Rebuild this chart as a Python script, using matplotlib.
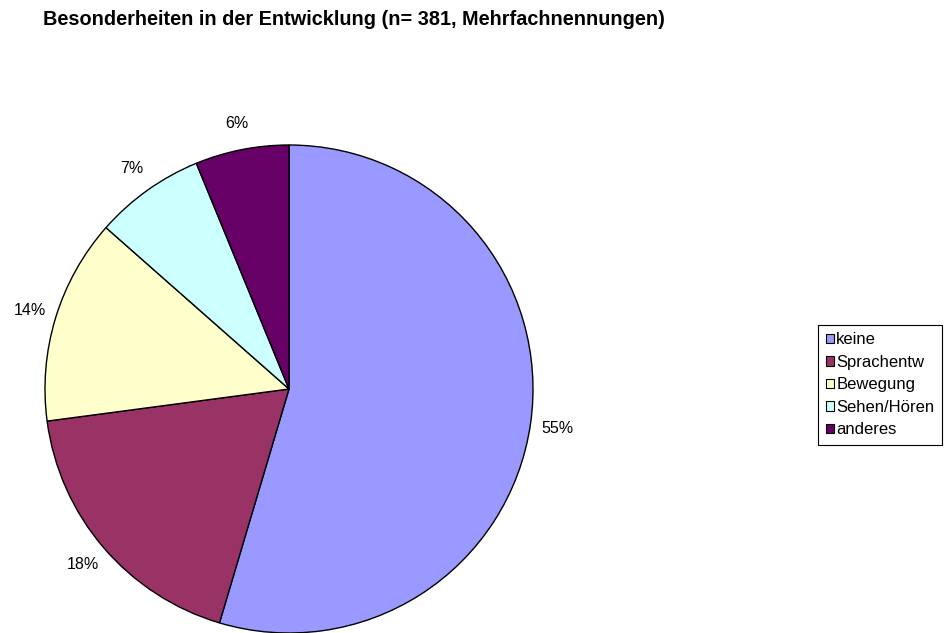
import matplotlib
matplotlib.use("Agg")
import matplotlib.pyplot as plt
from matplotlib.patches import Patch

plt.rcParams['font.family'] = ['Liberation Sans', 'DejaVu Sans']

categories = ["keine", "Sprachentw", "Bewegung", "Sehen/Hören", "anderes"]
values = [54.6, 18.3, 13.6, 7.3, 6.2]
colors = ["#9999FF", "#993366", "#FFFFCC", "#CCFFFF", "#660066"]
title = "Besonderheiten in der Entwicklung (n= 381, Mehrfachnennungen)"

W, H = 948, 633
fig = plt.figure(figsize=(W / 100, H / 100), dpi=100)

cx, cy, r = 289, 389, 244
ax = fig.add_axes([(cx - r) / W, (H - cy - r) / H, 2 * r / W, 2 * r / H])
wedges, texts, autotexts = ax.pie(values, colors=colors, startangle=90, counterclock=False,
                                  autopct='%1.0f%%', pctdistance=1.11,
                                  wedgeprops=dict(edgecolor="black", linewidth=1),
                                  textprops=dict(fontsize=11.5, color="black"))
for w in wedges:
    w.set_clip_on(False)
ax.set_xlim(-1, 1)
ax.set_ylim(-1, 1)
ax.set_aspect('equal')
ax.axis('off')

fig.text(43 / W, 1 - 25 / H, title, ha='left', va='baseline',
         fontsize=14.3, fontweight='bold')

handles = [Patch(facecolor=c, edgecolor='black', linewidth=0.8) for c in colors]
leg = fig.legend(handles, categories, loc='upper left',
                 bbox_to_anchor=(818 / W, 1 - 325 / H),
                 fancybox=False, edgecolor='black', framealpha=1,
                 fontsize=12, handlelength=0.5, handleheight=0.5,
                 handletextpad=0.15, labelspacing=0.45, borderpad=0.45,
                 borderaxespad=0)
leg.get_frame().set_linewidth(0.8)

fig.savefig("out.png", dpi=100)
